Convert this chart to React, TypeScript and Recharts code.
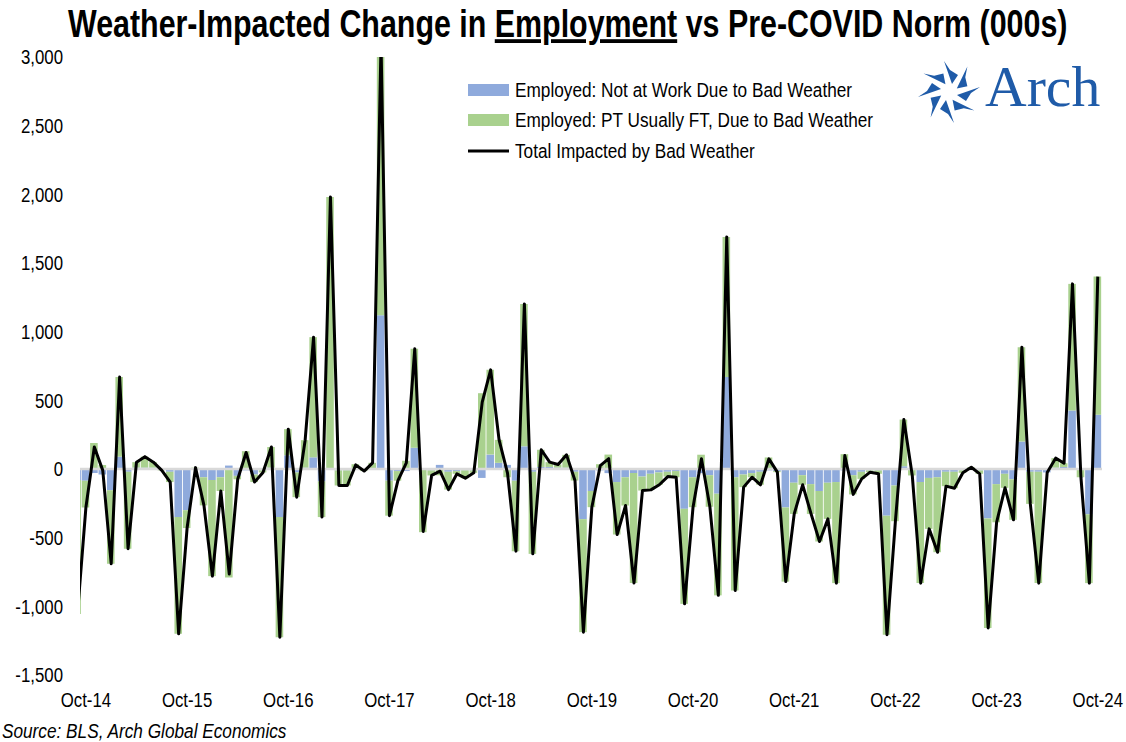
import React from 'react';
import { ComposedChart, Bar, Line, XAxis, YAxis, ReferenceLine } from 'recharts';

// Monthly, Sep-14 .. Oct-24 (000s, change vs pre-COVID norm)
const MONTHS = [
  'Sep-14', 'Oct-14', 'Nov-14', 'Dec-14',
  'Jan-15', 'Feb-15', 'Mar-15', 'Apr-15', 'May-15', 'Jun-15', 'Jul-15', 'Aug-15', 'Sep-15', 'Oct-15', 'Nov-15', 'Dec-15',
  'Jan-16', 'Feb-16', 'Mar-16', 'Apr-16', 'May-16', 'Jun-16', 'Jul-16', 'Aug-16', 'Sep-16', 'Oct-16', 'Nov-16', 'Dec-16',
  'Jan-17', 'Feb-17', 'Mar-17', 'Apr-17', 'May-17', 'Jun-17', 'Jul-17', 'Aug-17', 'Sep-17', 'Oct-17', 'Nov-17', 'Dec-17',
  'Jan-18', 'Feb-18', 'Mar-18', 'Apr-18', 'May-18', 'Jun-18', 'Jul-18', 'Aug-18', 'Sep-18', 'Oct-18', 'Nov-18', 'Dec-18',
  'Jan-19', 'Feb-19', 'Mar-19', 'Apr-19', 'May-19', 'Jun-19', 'Jul-19', 'Aug-19', 'Sep-19', 'Oct-19', 'Nov-19', 'Dec-19',
  'Jan-20', 'Feb-20', 'Mar-20', 'Apr-20', 'May-20', 'Jun-20', 'Jul-20', 'Aug-20', 'Sep-20', 'Oct-20', 'Nov-20', 'Dec-20',
  'Jan-21', 'Feb-21', 'Mar-21', 'Apr-21', 'May-21', 'Jun-21', 'Jul-21', 'Aug-21', 'Sep-21', 'Oct-21', 'Nov-21', 'Dec-21',
  'Jan-22', 'Feb-22', 'Mar-22', 'Apr-22', 'May-22', 'Jun-22', 'Jul-22', 'Aug-22', 'Sep-22', 'Oct-22', 'Nov-22', 'Dec-22',
  'Jan-23', 'Feb-23', 'Mar-23', 'Apr-23', 'May-23', 'Jun-23', 'Jul-23', 'Aug-23', 'Sep-23', 'Oct-23', 'Nov-23', 'Dec-23',
  'Jan-24', 'Feb-24', 'Mar-24', 'Apr-24', 'May-24', 'Jun-24', 'Jul-24', 'Aug-24', 'Sep-24', 'Oct-24',
];

const NOT_AT_WORK = [
  -80, -85, -30, -40,
  -155, 90, -20, 10, 10, 10, -5, -20, -350, -300, 0, -60,
  -80, -60, 25, -50, -10, -40, -10, 10, -350, 100, -25, 10,
  85, -90, 0, -10, -10, -5, -5, 5, 1120, -85, -15, -15,
  155, 5, -10, 30, -20, -15, -10, -10, -65, 105, 45, 30,
  -85, 165, -20, 15, 15, 10, 10, -20, -365, -160, -10, -30,
  -95, -60, -30, -55, -35, -25, -20, -15, -290, -60, -30, -45,
  -180, 670, -60, -40, -30, -20, -10, -15, -280, -100, -45, -110,
  -160, -100, -95, -10, -45, -20, -10, -10, -340, -120, 20, -5,
  -95, -65, -60, -20, -20, -10, 0, -10, -360, -110, -35, -75,
  200, -20, -20, -25, 10, 15, 426, -5, -330, 395,
];

const PT_USUALLY_FT = [
  -975, -195, 190, 30,
  -535, 580, -560, 40, 80, 40, -5, -75, -850, -130, 10, -205,
  -700, -100, -790, -25, 130, -55, -15, 150, -875, 190, -180, 200,
  875, -260, 1980, -110, -110, 35, -10, 40, 1980, -255, -70, 60,
  720, -460, -37, -46, -130, -20, -57, -18, 552, 617, 167, -60,
  -513, 1037, -598, 125, 35, 23, 93, -64, -823, -118, 35, 105,
  -382, -206, -800, -102, -117, -90, -35, -45, -692, -218, 104, -230,
  -740, 1020, -825, -92, -30, -95, 84, -8, -540, -227, -70, -217,
  -368, -263, -736, 108, -140, -52, -13, -25, -867, -260, 340, -42,
  -736, -371, -546, -105, -120, -18, 13, -25, -797, -278, -102, -295,
  687, -234, -811, 0, 69, 27, 922, -55, -501, 1006,
];

const Y_TICKS = [-1500, -1000, -500, 0, 500, 1000, 1500, 2000, 2500, 3000];

const BLUE = '#8faadc';
const GREEN = '#a9d18e';
const LOGO_BLUE = '#1f5ba8';
const FONT = '"Liberation Sans", Arial, Helvetica, sans-serif';
const NARROW = 0.82; // emulate Arial Narrow

const data = MONTHS.map((m, i) => ({
  idx: i,
  month: m,
  notAtWork: NOT_AT_WORK[i],
  ptUsuallyFt: PT_USUALLY_FT[i],
  total: NOT_AT_WORK[i] + PT_USUALLY_FT[i],
}));

const octTicks = data.filter(d => d.month.startsWith('Oct')).map(d => d.idx);

function XTick({ x, y, payload }: any) {
  return (
    <text
      transform={`translate(${x} ${y + 32}) scale(${NARROW} 1)`}
      textAnchor="middle"
      fontFamily={FONT}
      fontSize={20.5}
      fill="#000"
    >
      {MONTHS[payload.value]}
    </text>
  );
}

function YTick({ x, y, payload }: any) {
  return (
    <text
      transform={`translate(${x - 17} ${y}) scale(${NARROW} 1)`}
      textAnchor="end"
      dy="0.36em"
      fontFamily={FONT}
      fontSize={20.5}
      fill="#000"
    >
      {Number(payload.value).toLocaleString('en-US')}
    </text>
  );
}

function NarrowText({ x, y, children, size = 20.5, italic = false, squeeze = 0.84 }: any) {
  return (
    <text
      transform={`translate(${x} ${y}) scale(${squeeze} 1)`}
      fontFamily={FONT}
      fontSize={size}
      fontStyle={italic ? 'italic' : 'normal'}
      fill="#000"
    >
      {children}
    </text>
  );
}

function ArchLogo() {
  // pinwheel of 8 arrow blades
  const blades = [0, 45, 90, 135, 180, 225, 270, 315];
  return (
    <g>
      <g transform="translate(949 92)">
        {blades.map(a => (
          <path
            key={a}
            d="M 3 -8 L -5 -31 L 1 -22 L 9 -17 Z"
            fill={LOGO_BLUE}
            transform={`rotate(${a})`}
          />
        ))}
      </g>
      <text
        transform="translate(985 106) scale(1.03 1)"
        fontFamily='"Liberation Serif", "Times New Roman", serif'
        fontSize={56}
        fill={LOGO_BLUE}
      >
        Arch
      </text>
    </g>
  );
}

function Overlay() {
  return (
    <svg
      width={1126}
      height={742}
      style={{ position: 'absolute', left: 0, top: 0, pointerEvents: 'none' }}
    >
      <text
        transform="translate(68 37) scale(0.8 1)"
        fontFamily={FONT}
        fontWeight={700}
        fontSize={38}
        fill="#000"
      >
        Weather-Impacted Change in <tspan style={{ textDecoration: 'underline' }}>Employment</tspan> vs Pre-COVID Norm (000s)
      </text>

      {/* legend */}
      <rect x={468} y={84} width={41} height={12} fill={BLUE} />
      <NarrowText x={515} y={97}>Employed: Not at Work Due to Bad Weather</NarrowText>
      <rect x={468} y={114} width={41} height={12} fill={GREEN} />
      <NarrowText x={515} y={127}>Employed: PT Usually FT, Due to Bad Weather</NarrowText>
      <line x1={468} x2={509} y1={151} y2={151} stroke="#000" strokeWidth={3} />
      <NarrowText x={515} y={158}>Total Impacted by Bad Weather</NarrowText>

      <ArchLogo />

      <NarrowText x={2} y={738} italic>Source: BLS, Arch Global Economics</NarrowText>
    </svg>
  );
}

export default function App() {
  return (
    <div style={{ position: 'absolute', left: 0, top: 0, width: 1126, height: 742, background: '#fff' }}>
      <ComposedChart
        width={1126}
        height={742}
        data={data}
        stackOffset="sign"
        margin={{ top: 57, right: 24, bottom: 37, left: 0 }}
      >
        <XAxis
          dataKey="idx"
          type="number"
          domain={[0.3, 121.5]}
          allowDataOverflow
          ticks={octTicks}
          interval={0}
          axisLine={false}
          tickLine={false}
          tickSize={0}
          tickMargin={0}
          height={30}
          tick={(p: any) => <XTick {...p} />}
        />
        <YAxis
          type="number"
          domain={[-1500, 3000]}
          allowDataOverflow
          ticks={Y_TICKS}
          interval={0}
          axisLine={false}
          tickLine={false}
          tickSize={0}
          tickMargin={0}
          width={80}
          tick={(p: any) => <YTick {...p} />}
        />
        <Bar dataKey="notAtWork" stackId="w" fill={BLUE} barSize={9} isAnimationActive={false} />
        <Bar dataKey="ptUsuallyFt" stackId="w" fill={GREEN} barSize={9} isAnimationActive={false} />
        <ReferenceLine y={0} stroke="#d9d9d9" strokeWidth={2.5} />
        <Line
          dataKey="total"
          type="linear"
          stroke="#000"
          strokeWidth={3}
          strokeLinejoin="round"
          dot={false}
          activeDot={false}
          isAnimationActive={false}
        />
      </ComposedChart>
      <Overlay />
    </div>
  );
}
